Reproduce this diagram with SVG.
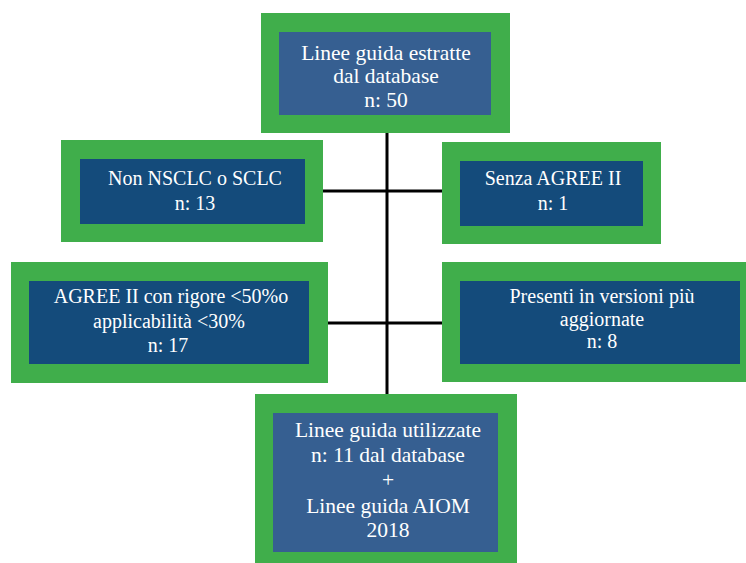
<svg xmlns="http://www.w3.org/2000/svg" width="746" height="563" viewBox="0 0 746 563">
<style>
.g{fill:#40ae4b}
.b1{fill:#365f91}
.b2{fill:#144b7b}
.t{font-family:"Liberation Serif","Times New Roman",serif;font-size:20px;fill:#ffffff;text-anchor:middle}
.w{font-size:21.5px}
.c{stroke:#000;stroke-width:3;fill:none}
</style>
<rect width="746" height="563" fill="#ffffff"/>
<g id="connectors">
<line class="c" x1="387" y1="133" x2="387" y2="394"/>
<line class="c" x1="323" y1="191" x2="442" y2="191"/>
<line class="c" x1="328" y1="323" x2="442" y2="323"/>
</g>
<g id="n1">
<rect class="g" x="261" y="13" width="249" height="120"/>
<rect class="b1" x="279" y="32" width="212" height="83"/>
<text class="t w" x="386" y="60">Linee guida estratte</text>
<text class="t w" x="386" y="83">dal database</text>
<text class="t w" x="386" y="107">n: 50</text>
</g>
<g id="n2">
<rect class="g" x="61" y="140" width="262" height="102"/>
<rect class="b2" x="80" y="159" width="225" height="65"/>
<text class="t" x="195" y="185">Non NSCLC o SCLC</text>
<text class="t" x="195" y="210">n: 13</text>
</g>
<g id="n3">
<rect class="g" x="442" y="142" width="219" height="102"/>
<rect class="b2" x="460" y="161" width="183" height="65"/>
<text class="t" x="553" y="185">Senza AGREE II</text>
<text class="t" x="553" y="210">n: 1</text>
</g>
<g id="n4">
<rect class="g" x="11" y="262" width="317" height="121"/>
<rect class="b2" x="29" y="281" width="280" height="83"/>
<text class="t" x="171" y="303">AGREE II con rigore &lt;50%o</text>
<text class="t" x="169" y="328">applicabilità &lt;30%</text>
<text class="t" x="168" y="352">n: 17</text>
</g>
<g id="n5">
<rect class="g" x="442" y="262" width="304" height="120"/>
<rect class="b2" x="460" y="281" width="280" height="83"/>
<text class="t" x="602" y="303">Presenti in versioni più</text>
<text class="t" x="602" y="326">aggiornate</text>
<text class="t" x="602" y="348">n: 8</text>
</g>
<g id="n6">
<rect class="g" x="255" y="394" width="262" height="169"/>
<rect class="b1" x="273" y="413" width="225" height="139"/>
<text class="t w" x="388" y="437">Linee guida utilizzate</text>
<text class="t w" x="388" y="462">n: 11 dal database</text>
<text class="t w" x="388" y="487">+</text>
<text class="t w" x="388" y="513">Linee guida AIOM</text>
<text class="t w" x="388" y="537">2018</text>
</g>
</svg>
